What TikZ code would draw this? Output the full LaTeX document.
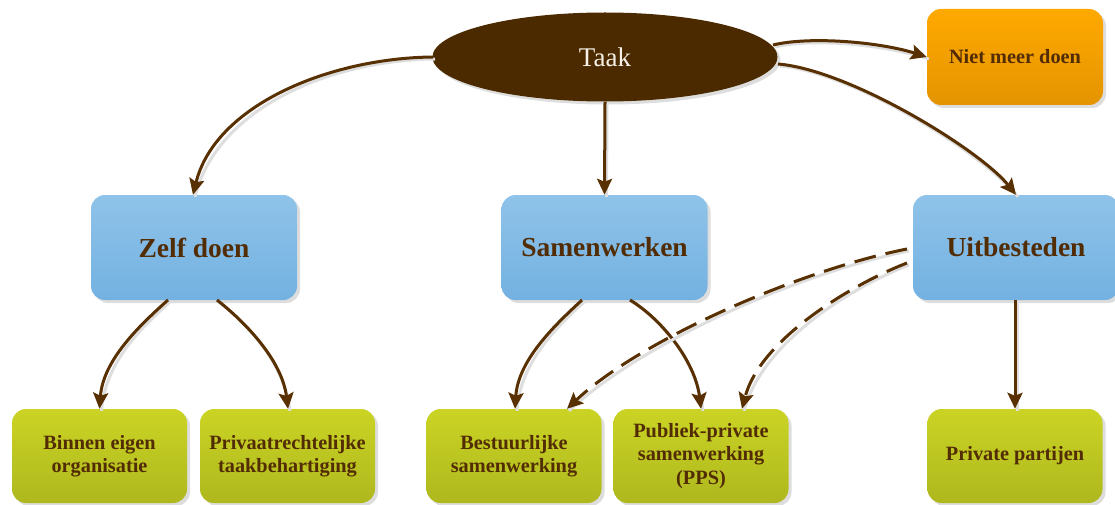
\documentclass[tikz,border=0pt]{standalone}
\usepackage{fontspec}
\setmainfont{Liberation Serif}
\usetikzlibrary{shapes.geometric,shadows,arrows.meta}
\definecolor{ebrown}{RGB}{75,42,0}
\definecolor{abrown}{RGB}{88,48,2}
\definecolor{tbrown}{RGB}{82,44,4}
\definecolor{bluetop}{RGB}{143,195,233}
\definecolor{bluebot}{RGB}{115,177,225}
\definecolor{greentop}{RGB}{203,212,36}
\definecolor{greenbot}{RGB}{174,184,30}
\definecolor{orangetop}{RGB}{255,169,0}
\definecolor{orangebot}{RGB}{228,148,0}
\tikzset{
  shad/.style={drop shadow={shadow xshift=3pt,shadow yshift=-3pt,opacity=0.22,fill=black!60}},
  bluebox/.style={rectangle,rounded corners=14pt,minimum width=206pt,minimum height=105pt,
    top color=bluetop,bottom color=bluebot,draw=none,shad,text=tbrown,
    font=\bfseries\fontsize{27.5}{30}\selectfont},
  greenbox/.style={rectangle,rounded corners=14pt,minimum width=175pt,minimum height=94pt,
    top color=greentop,bottom color=greenbot,draw=none,shad,text=tbrown,align=center,
    font=\bfseries\fontsize{20.3}{23.5}\selectfont},
  orangebox/.style={rectangle,rounded corners=14pt,minimum width=176pt,minimum height=96pt,
    top color=orangetop,bottom color=orangebot,draw=none,shad,text=tbrown,
    font=\bfseries\fontsize{20.3}{24}\selectfont},
  conn/.style={draw=abrown,line width=3pt,-{Stealth[length=16pt,width=15pt,inset=3pt]},
    preaction={draw=black!13,line width=3pt,-,transform canvas={xshift=2pt,yshift=-2pt}}},
  dconn/.style={conn,dash pattern=on 22pt off 10pt},
}
\begin{document}
\begin{tikzpicture}[x=1pt,y=-1pt]
\useasboundingbox (0,0) rectangle (1115,505);
\node[ellipse,fill=ebrown,minimum width=345pt,minimum height=89pt,shad,text={rgb,255:red,245;green,240;blue,232},
  font=\fontsize{27}{30}\selectfont] (taak) at (605,57) {Taak};
\node[orangebox] (niet) at (1015,57) {Niet meer doen};
\node[bluebox] (zelf) at (194,247.5) {Zelf doen};
\node[bluebox] (samen) at (604.5,247.5) {Samenwerken};
\node[bluebox] (uit) at (1016,247.5) {Uitbesteden};
\node[greenbox] (binnen) at (99.5,456) {Binnen eigen\\organisatie};
\node[greenbox] (privaat) at (287.5,456) {Privaatrechtelijke\\taakbehartiging};
\node[greenbox] (bestuur) at (514,456) {Bestuurlijke\\samenwerking};
\node[greenbox] (pps) at (701,456) {Publiek-private\\samenwerking\\(PPS)};
\node[greenbox] (private) at (1015,456) {Private partijen};
% connectors
\coordinate (tl) at (433,57);
\coordinate (tr1) at (773,45);
\coordinate (tr2) at (778,64);
\path[conn] (tl) .. controls (330,58) and (215,105) .. (zelf.north -| 193,0);
\path[conn] (taak.south) -- (samen.north);
\path[conn] (tr1) .. controls (810,36) and (880,42) .. (niet.west);
\path[conn] (tr2) .. controls (850,70) and (980,150) .. (uit.north);
\coordinate (z1) at (168,300);
\coordinate (z2) at (217,300);
\path[conn] (z1) .. controls (140,325) and (103,360) .. (binnen.north);
\path[conn] (z2) .. controls (245,322) and (282,360) .. (privaat.north -| 288,0);
\coordinate (s1) at (582,300);
\coordinate (s2) at (630,300);
\path[conn] (s1) .. controls (555,325) and (518,360) .. (bestuur.north -| 515,0);
\path[conn] (s2) .. controls (660,318) and (695,360) .. (pps.north);
\coordinate (u1) at (907,249);
\coordinate (u2) at (907,263);
\path[dconn] (u1) .. controls (800,270) and (640,340) .. (bestuur.north -| 567,0);
\path[dconn] (u2) .. controls (850,285) and (760,340) .. (pps.north -| 742,0);
\path[conn] (uit.south -| 1015,0) -- (private.north);
\end{tikzpicture}
\end{document}
